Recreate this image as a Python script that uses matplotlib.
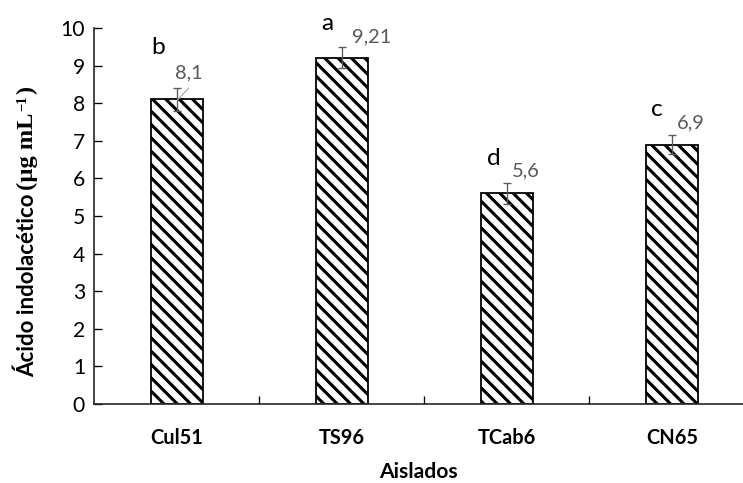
import matplotlib
matplotlib.use("Agg")
import matplotlib.pyplot as plt
import numpy as np

# --- Data --------------------------------------------------------------------
aislados = ["Cul51", "TS96", "TCab6", "CN65"]
iaa = [8.1, 9.21, 5.6, 6.9]
iaa_err = [0.30, 0.28, 0.27, 0.26]
value_labels = ["8,1", "9,21", "5,6", "6,9"]
letters = ["b", "a", "d", "c"]

# label placement (data units, relative to bar top / bar centre)
letter_dx = [-0.11, -0.09, -0.08, -0.09]
letter_dy = [1.39, 0.92, 0.92, 0.92]
val_dx = [-0.01, 0.06, 0.03, 0.03]
val_dy = [0.70, 0.55, 0.60, 0.57]

# --- Figure ------------------------------------------------------------------
DPI = 80
plt.rcParams['font.family'] = ['Lato', 'DejaVu Sans']
plt.rcParams['hatch.linewidth'] = 2.8
plt.rcParams['hatch.color'] = 'black'

fig = plt.figure(figsize=(743 / DPI, 483 / DPI), dpi=DPI)
ax = fig.add_axes([94 / 743, 1 - 404 / 483, 1 - 94 / 743, (404 - 28) / 483])

x = np.arange(len(aislados))
ax.bar(x, iaa, width=0.315, color='white', edgecolor='black',
       linewidth=1.6, hatch='\\\\', zorder=2)
ax.errorbar(x, iaa, yerr=iaa_err, fmt='none', ecolor='#595959',
            elinewidth=1.2, capsize=3.5, capthick=1.2, zorder=3)

# letters and value labels
for i in range(len(x)):
    ax.text(x[i] + letter_dx[i], iaa[i] + letter_dy[i], letters[i],
            fontsize=22, ha='center', va='center', color='black',
            clip_on=False)
    ax.text(x[i] + val_dx[i], iaa[i] + val_dy[i], value_labels[i],
            fontsize=18, ha='left', va='center', color='#595959',
            clip_on=False)
# leader line for Cul51 label
ax.plot([x[0] + 0.006, x[0] + 0.073], [iaa[0] - 0.01, iaa[0] + 0.30],
        color='#a6a6a6', linewidth=1.0, zorder=4)

# axes config
ax.set_xlim(-0.5, 3.43)
ax.set_ylim(0, 10)
ax.set_yticks(np.arange(0, 11, 1))
ax.set_xticks(x)
ax.set_xticklabels(aislados, fontsize=18, fontweight='bold')
ax.set_xticks(x[:-1] + 0.5, minor=True)
ax.tick_params(axis='x', which='major', length=0, pad=22)
ax.tick_params(axis='x', which='minor', direction='in', length=7,
               width=1.2)
ax.tick_params(axis='y', direction='in', length=7, width=1.2,
               labelsize=19, pad=8)
for s in ['top', 'right']:
    ax.spines[s].set_visible(False)
for s in ['left', 'bottom']:
    ax.spines[s].set_linewidth(1.5)
    ax.spines[s].set_color('#262626')

# axis titles
fig.text(418 / 743, 1 - 472 / 483, "Aislados", fontsize=19,
         fontweight='bold', ha='center', va='center')
t1 = fig.text(27 / 743, 1 - 377 / 483, "Ácido indolacético", fontsize=20,
              fontweight='bold', rotation=90, ha='center', va='bottom')
renderer = fig.canvas.get_renderer()
bb = t1.get_window_extent(renderer)
serif = ['Liberation Serif', 'DejaVu Serif']
t2 = fig.text(27 / 743, (bb.y1 + 4) / fig.bbox.height, "(µg mL",
              fontsize=22, fontweight='bold', rotation=90, ha='center',
              va='bottom', family=serif)
bb2 = t2.get_window_extent(renderer)
# small superscript -1 (glyph tops point left once rotated)
t3 = fig.text((bb2.x0 + 0.32 * bb2.width) / fig.bbox.width,
              (bb2.y1 + 1) / fig.bbox.height, "\u22121", fontsize=13,
              fontweight='bold', rotation=90, ha='center', va='bottom',
              family=serif)
bb3 = t3.get_window_extent(renderer)
fig.text(27 / 743, (bb3.y1 + 1) / fig.bbox.height, ")",
         fontsize=22, fontweight='bold', rotation=90, ha='center',
         va='bottom', family=serif)

fig.savefig("out.png", dpi=DPI)
